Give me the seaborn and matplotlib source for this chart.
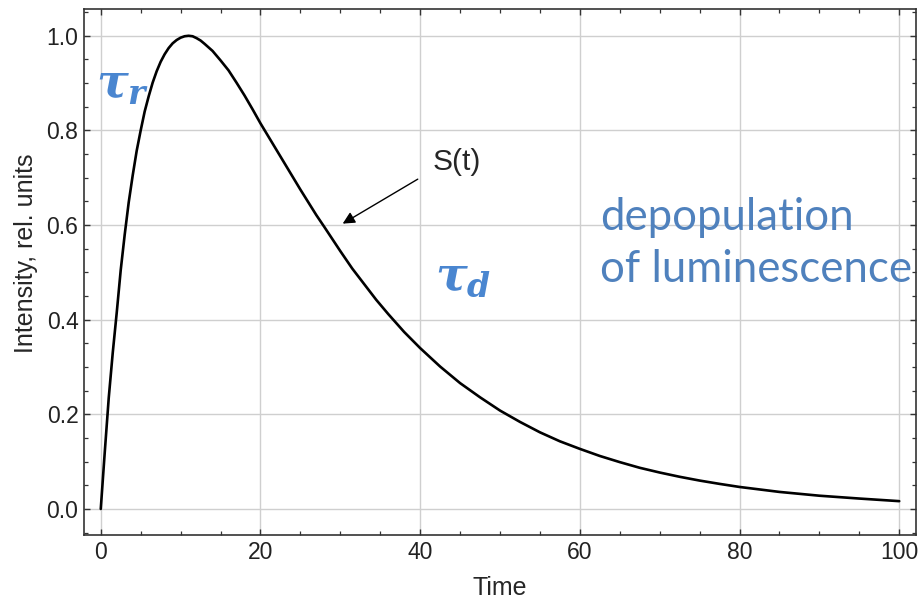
import numpy as np
import pandas as pd
import seaborn as sns
import matplotlib.pyplot as plt
from matplotlib.ticker import MultipleLocator

# values
time = [0, 0.5, 1, 1.5, 2, 2.5, 3, 3.5, 4, 4.5, 5, 5.5, 6, 6.5, 7, 7.5, 8,
        8.5, 9, 9.5, 10, 10.5, 11, 11.5, 12, 12.5, 13, 14, 15, 16, 17, 18,
        19, 20, 21, 22, 23, 24, 25, 26, 27, 28, 30, 31.5, 33, 34.5, 36, 38,
        40, 42.5, 45, 47.5, 50, 52.5, 55, 57.5, 60, 62.5, 65, 67.5, 70,
        72.5, 75, 77.5, 80, 85, 90, 95, 100]
intensity = [0.0, 0.12, 0.235, 0.33, 0.415, 0.505, 0.58, 0.648, 0.705, 0.757,
             0.80, 0.840, 0.872, 0.901, 0.925, 0.945, 0.961, 0.974, 0.984,
             0.991, 0.996, 0.999, 1.0, 0.999, 0.995, 0.990, 0.983, 0.968,
             0.948, 0.927, 0.901, 0.874, 0.845, 0.815, 0.787, 0.759, 0.731,
             0.703, 0.675, 0.648, 0.621, 0.596, 0.545, 0.508, 0.475, 0.442,
             0.412, 0.374, 0.34, 0.301, 0.266, 0.236, 0.208, 0.184, 0.162,
             0.143, 0.127, 0.112, 0.099, 0.087, 0.077, 0.068, 0.06, 0.053,
             0.0465, 0.036, 0.028, 0.022, 0.0165]
df = pd.DataFrame({"Time": time, "S": intensity})

sns.set_style("ticks")
plt.rcParams['font.family'] = ['Liberation Sans', 'DejaVu Sans']
plt.rcParams['mathtext.fontset'] = 'custom'
plt.rcParams['mathtext.rm'] = 'DejaVu Serif:bold'
plt.rcParams['mathtext.it'] = 'DejaVu Serif:italic:bold'

fig = plt.figure(figsize=(9.18, 6.03), dpi=100)
ax = fig.add_axes([0.0915, 0.1128, 0.9063, 0.8718])

sns.lineplot(data=df, x="Time", y="S", ax=ax, color="black", linewidth=1.9)

ax.set_xlim(-2.1, 102.1)
ax.set_ylim(-0.055, 1.056)
ax.xaxis.set_major_locator(MultipleLocator(20))
ax.xaxis.set_minor_locator(MultipleLocator(5))
ax.yaxis.set_major_locator(MultipleLocator(0.2))
ax.yaxis.set_minor_locator(MultipleLocator(0.05))
ax.set_xticks([0, 20, 40, 60, 80, 100])
ax.set_yticks([0.0, 0.2, 0.4, 0.6, 0.8, 1.0])
ax.set_yticklabels(["0.0", "0.2", "0.4", "0.6", "0.8", "1.0"])
ax.tick_params(which='both', direction='in', top=True, right=True,
               labelsize=16.5, colors='#333333', labelcolor='#222222', pad=4)
ax.tick_params(which='major', length=4.5, width=1)
ax.tick_params(which='minor', length=3, width=0.9)
ax.grid(True, which='major', color='#cfcfcf', linewidth=1)
for s in ax.spines.values():
    s.set_color('#333333')
    s.set_linewidth(1.2)

ax.set_xlabel("Time", fontsize=18, labelpad=9)
ax.set_ylabel("Intensity, rel. units", fontsize=18, labelpad=6)
ax.yaxis.label.set_y(0.535)

ax.annotate('', xy=(30, 0.6), xytext=(40, 0.70),
            arrowprops=dict(arrowstyle='-|>', color='black', lw=1,
                            mutation_scale=18))
ax.text(41.5, 0.733, "S(t)", fontsize=21.5, va='center', ha='left')

tau_blue = '#4a86d0'
text_blue = '#4f81bd'
ax.text(-0.6, 0.895, r'$\tau_r$', fontsize=34, color=tau_blue, va='center')
ax.text(41.8, 0.488, r'$\tau_d$', fontsize=34, color=tau_blue, va='center')
ax.text(62.5, 0.5895, "depopulation", fontsize=31.5, color=text_blue,
        family='Lato', va='baseline', ha='left', clip_on=False)
ax.text(62.5, 0.4796, "of luminescence", fontsize=31.5, color=text_blue,
        family='Lato', va='baseline', ha='left', clip_on=False)

fig.savefig("out.png", dpi=100)
